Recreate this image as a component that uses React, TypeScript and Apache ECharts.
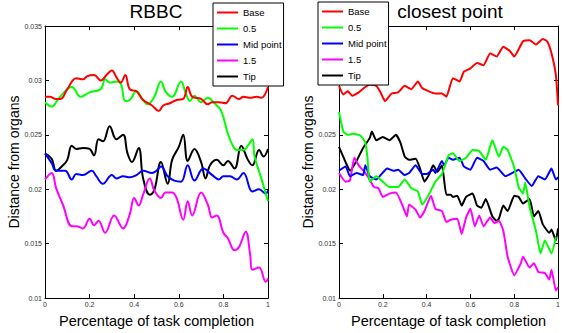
import React, { useEffect, useRef } from "react";
import * as echarts from "echarts";

const seriesNames = ["Base", "0.5", "Mid point", "1.5", "Tip"];
const seriesColors = ["#ff0000", "#00ff00", "#0000ff", "#ff00ff", "#000000"];
const titles = ["RBBC", "closest point"];
const yTicks = [0.01, 0.015, 0.02, 0.025, 0.03, 0.035];
const xTicks = [0, 0.2, 0.4, 0.6, 0.8, 1];

// RBBC (left)
const rbbcBase = [[0,0.0285],[0.02,0.0285],[0.05,0.0283],[0.07,0.0283],[0.1,0.0292],[0.14,0.0302],[0.17,0.0301],[0.19,0.0304],[0.22,0.0305],[0.25,0.03],[0.28,0.0306],[0.3,0.0309],[0.32,0.0303],[0.34,0.0298],[0.36,0.0305],[0.38,0.0292],[0.41,0.029],[0.44,0.0282],[0.48,0.0277],[0.51,0.0272],[0.53,0.0277],[0.56,0.0279],[0.59,0.0282],[0.62,0.0283],[0.64,0.0294],[0.66,0.0285],[0.7,0.0283],[0.73,0.0278],[0.75,0.028],[0.78,0.028],[0.81,0.0279],[0.84,0.0286],[0.87,0.0283],[0.89,0.0285],[0.92,0.0284],[0.95,0.0285],[0.97,0.0284],[1,0.0294]];
const rbbcHalf = [[0,0.028],[0.03,0.0276],[0.06,0.0283],[0.1,0.0292],[0.12,0.0294],[0.16,0.0285],[0.2,0.0289],[0.25,0.0292],[0.27,0.0301],[0.29,0.0298],[0.32,0.0299],[0.34,0.0297],[0.36,0.0281],[0.38,0.0282],[0.41,0.029],[0.44,0.0282],[0.46,0.0278],[0.49,0.0285],[0.52,0.0299],[0.54,0.029],[0.57,0.0285],[0.61,0.0299],[0.63,0.0289],[0.65,0.0281],[0.67,0.0286],[0.7,0.028],[0.73,0.0284],[0.76,0.0279],[0.79,0.0272],[0.82,0.0251],[0.84,0.0241],[0.86,0.0236],[0.89,0.0236],[0.91,0.024],[0.93,0.0246],[0.94,0.023],[0.97,0.021],[1,0.0189]];
const rbbcMid = [[0,0.0233],[0.03,0.0224],[0.05,0.0217],[0.09,0.0217],[0.12,0.0209],[0.14,0.0214],[0.17,0.0213],[0.21,0.0217],[0.23,0.0212],[0.26,0.0205],[0.3,0.0213],[0.32,0.021],[0.35,0.0212],[0.38,0.0211],[0.41,0.0213],[0.44,0.0217],[0.48,0.0215],[0.5,0.0217],[0.52,0.0221],[0.55,0.0212],[0.58,0.0208],[0.61,0.0207],[0.64,0.0222],[0.67,0.0208],[0.71,0.0219],[0.75,0.0213],[0.78,0.0209],[0.8,0.0212],[0.83,0.0212],[0.86,0.0209],[0.89,0.0215],[0.93,0.0198],[0.96,0.02],[0.99,0.0196],[1,0.0199]];
const rbbcOneHalf = [[0,0.0209],[0.03,0.0215],[0.05,0.0201],[0.08,0.0186],[0.12,0.0166],[0.14,0.0166],[0.17,0.0164],[0.2,0.0173],[0.22,0.0167],[0.24,0.0171],[0.27,0.016],[0.31,0.0176],[0.35,0.0164],[0.38,0.0177],[0.4,0.0192],[0.42,0.0185],[0.44,0.0195],[0.47,0.021],[0.49,0.0199],[0.52,0.0192],[0.54,0.0197],[0.57,0.0197],[0.59,0.0192],[0.62,0.0172],[0.64,0.0189],[0.66,0.0176],[0.7,0.0197],[0.73,0.0186],[0.75,0.0174],[0.77,0.0176],[0.8,0.016],[0.82,0.0155],[0.85,0.0144],[0.87,0.0147],[0.9,0.0161],[0.92,0.014],[0.93,0.0126],[0.96,0.0128],[0.99,0.0115],[1,0.0118]];
const rbbcTip = [[0,0.0233],[0.03,0.0228],[0.05,0.0217],[0.08,0.0222],[0.1,0.0227],[0.12,0.024],[0.14,0.0237],[0.17,0.0238],[0.2,0.0237],[0.22,0.0231],[0.24,0.0246],[0.26,0.0244],[0.29,0.0258],[0.32,0.0246],[0.35,0.025],[0.37,0.0233],[0.39,0.0225],[0.42,0.0238],[0.44,0.021],[0.47,0.0195],[0.49,0.0199],[0.52,0.0225],[0.55,0.0205],[0.57,0.0227],[0.6,0.0239],[0.62,0.025],[0.64,0.0226],[0.67,0.0237],[0.7,0.0225],[0.72,0.021],[0.74,0.0222],[0.77,0.0227],[0.8,0.0222],[0.82,0.0226],[0.85,0.0219],[0.88,0.024],[0.91,0.0227],[0.93,0.0222],[0.96,0.0236],[0.98,0.023],[1,0.0237]];

// closest point (right)
const cpBase = [[0,0.0295],[0.02,0.0287],[0.04,0.029],[0.06,0.0286],[0.09,0.0289],[0.12,0.0294],[0.14,0.0296],[0.17,0.0295],[0.19,0.0289],[0.21,0.0281],[0.24,0.0288],[0.27,0.0289],[0.3,0.0295],[0.33,0.0292],[0.36,0.0299],[0.38,0.0293],[0.41,0.029],[0.44,0.0288],[0.47,0.0288],[0.49,0.0285],[0.52,0.0302],[0.55,0.0299],[0.57,0.0308],[0.6,0.0311],[0.63,0.0316],[0.66,0.0314],[0.69,0.0325],[0.72,0.0322],[0.75,0.0331],[0.78,0.0327],[0.8,0.0322],[0.84,0.0336],[0.87,0.0337],[0.9,0.0333],[0.93,0.0338],[0.95,0.0336],[0.97,0.0325],[0.99,0.0305],[1,0.0277]];
const cpHalf = [[0,0.0271],[0.02,0.0253],[0.04,0.025],[0.07,0.0251],[0.1,0.0249],[0.12,0.0243],[0.13,0.0229],[0.14,0.0207],[0.17,0.0212],[0.2,0.0207],[0.23,0.0202],[0.27,0.0202],[0.3,0.0209],[0.33,0.0201],[0.36,0.0198],[0.38,0.0186],[0.41,0.0195],[0.44,0.0207],[0.47,0.0214],[0.5,0.0231],[0.52,0.0233],[0.55,0.0226],[0.58,0.0229],[0.61,0.0236],[0.64,0.0235],[0.67,0.0227],[0.7,0.0245],[0.73,0.023],[0.75,0.0239],[0.77,0.0236],[0.8,0.022],[0.82,0.0202],[0.84,0.0196],[0.85,0.0206],[0.87,0.0184],[0.9,0.0161],[0.92,0.0141],[0.94,0.0153],[0.97,0.0141],[0.99,0.0156]];
const cpMid = [[0,0.0217],[0.03,0.0221],[0.05,0.0212],[0.08,0.0215],[0.11,0.0213],[0.12,0.0222],[0.14,0.0212],[0.17,0.0209],[0.19,0.0213],[0.22,0.0219],[0.25,0.0217],[0.27,0.0218],[0.3,0.0213],[0.32,0.0215],[0.35,0.0222],[0.38,0.0214],[0.4,0.0214],[0.43,0.0218],[0.44,0.0215],[0.47,0.0226],[0.48,0.0222],[0.5,0.0229],[0.52,0.0227],[0.55,0.0229],[0.57,0.0221],[0.6,0.0218],[0.63,0.0229],[0.66,0.0226],[0.69,0.0218],[0.72,0.022],[0.74,0.0216],[0.76,0.0212],[0.8,0.0216],[0.82,0.0218],[0.85,0.021],[0.88,0.0203],[0.91,0.0212],[0.94,0.0209],[0.97,0.0219],[0.99,0.0209],[1,0.0211]];
const cpOneHalf = [[0,0.0215],[0.03,0.0207],[0.05,0.0208],[0.07,0.0229],[0.09,0.0222],[0.12,0.0215],[0.14,0.0209],[0.16,0.0202],[0.18,0.0201],[0.2,0.0193],[0.23,0.0196],[0.26,0.0197],[0.29,0.0185],[0.31,0.0175],[0.32,0.0186],[0.35,0.0181],[0.37,0.0174],[0.39,0.018],[0.42,0.0194],[0.44,0.0182],[0.47,0.018],[0.49,0.017],[0.51,0.0172],[0.54,0.0173],[0.56,0.0159],[0.58,0.0174],[0.6,0.0182],[0.62,0.0166],[0.64,0.0176],[0.66,0.0166],[0.69,0.0174],[0.71,0.0169],[0.73,0.0171],[0.75,0.0162],[0.77,0.0138],[0.8,0.0121],[0.83,0.0132],[0.84,0.0138],[0.87,0.0128],[0.89,0.0132],[0.91,0.0124],[0.94,0.0123],[0.96,0.0117],[0.97,0.0126],[0.99,0.0107],[1,0.011]];
const cpTip = [[0,0.0239],[0.03,0.0225],[0.05,0.0217],[0.08,0.0226],[0.11,0.0238],[0.14,0.0247],[0.15,0.0253],[0.17,0.0245],[0.2,0.0248],[0.23,0.0245],[0.26,0.025],[0.28,0.0243],[0.3,0.023],[0.32,0.0227],[0.35,0.0228],[0.37,0.0219],[0.39,0.0207],[0.41,0.0213],[0.43,0.0222],[0.45,0.0216],[0.47,0.0222],[0.49,0.0195],[0.51,0.0195],[0.52,0.0193],[0.54,0.0194],[0.56,0.0185],[0.58,0.0193],[0.61,0.0196],[0.63,0.0185],[0.65,0.0183],[0.67,0.0191],[0.7,0.0175],[0.72,0.0171],[0.73,0.0173],[0.75,0.0185],[0.77,0.018],[0.8,0.0194],[0.82,0.0193],[0.84,0.0187],[0.87,0.0191],[0.89,0.0175],[0.91,0.018],[0.93,0.0168],[0.96,0.016],[0.97,0.0163],[0.99,0.0153],[1,0.0164]];

const rbbcSets = [rbbcBase, rbbcHalf, rbbcMid, rbbcOneHalf, rbbcTip];
const cpSets = [cpBase, cpHalf, cpMid, cpOneHalf, cpTip];

const FONT = "'Liberation Sans', Arial, Helvetica, sans-serif";

function fmt(v: number) {
  return String(parseFloat(v.toFixed(3)));
}

export default function App() {
  const ref = useRef<HTMLDivElement>(null);
  useEffect(() => {
    document.body.style.margin = "0";
    const chart = echarts.init(ref.current!, null, { renderer: "svg" });
    const gridLefts = [45, 339];
    const grids = gridLefts.map((l) => ({ left: l, top: 26, width: 223, height: 275, show: false }));
    const xAxes: any[] = [];
    const yAxes: any[] = [];
    [0, 1].forEach((g) => {
      xAxes.push({
        type: "value", gridIndex: g, min: xTicks[0], max: xTicks[xTicks.length - 1], interval: 0.2, position: "bottom",
        name: "Percentage of task completion", nameLocation: "middle", nameGap: 10,
        nameTextStyle: { fontSize: 14.5, color: "#000", fontFamily: FONT },
        axisLine: { show: true, onZero: false, lineStyle: { color: "#000", width: 1 } },
        axisTick: { show: true, inside: true, length: 4, lineStyle: { color: "#000" } },
        axisLabel: { fontSize: 7, color: "#333", margin: 3, fontFamily: FONT, formatter: (v: number) => fmt(v) },
        splitLine: { show: false },
      });
      xAxes.push({
        type: "value", gridIndex: g, min: 0, max: 1, interval: 0.2, position: "top",
        axisLine: { show: true, onZero: false, lineStyle: { color: "#000", width: 1 } },
        axisTick: { show: true, inside: true, length: 4, lineStyle: { color: "#000" } },
        axisLabel: { show: false }, splitLine: { show: false },
      });
      yAxes.push({
        type: "value", gridIndex: g, min: yTicks[0], max: yTicks[yTicks.length - 1], interval: 0.005, position: "left",
        name: "Distance from organs", nameLocation: "middle", nameGap: 23,
        nameTextStyle: { fontSize: 14, color: "#000", fontFamily: FONT },
        axisLine: { show: true, onZero: false, lineStyle: { color: "#000", width: 1 } },
        axisTick: { show: true, inside: true, length: 4, lineStyle: { color: "#000" } },
        axisLabel: { fontSize: 7, color: "#333", margin: 3, fontFamily: FONT, formatter: (v: number) => fmt(v) },
        splitLine: { show: false },
      });
      yAxes.push({
        type: "value", gridIndex: g, min: 0.01, max: 0.035, interval: 0.005, position: "right",
        axisLine: { show: true, onZero: false, lineStyle: { color: "#000", width: 1 } },
        axisTick: { show: true, inside: true, length: 4, lineStyle: { color: "#000" } },
        axisLabel: { show: false }, splitLine: { show: false },
      });
    });
    const series: any[] = [];
    [rbbcSets, cpSets].forEach((sets, g) => {
      sets.forEach((data, i) => {
        series.push({
          type: "line", name: seriesNames[i], data, xAxisIndex: g * 2, yAxisIndex: g * 2,
          showSymbol: false, symbol: "none", smooth: g === 0 ? 0.4 : 0.15,
          lineStyle: { color: seriesColors[i], width: 2 }, itemStyle: { color: seriesColors[i] },
          z: 10 - i,
        });
      });
    });
    const legendCommon = {
      orient: "vertical", top: 3, data: seriesNames.map((n) => ({ name: n, icon: "rect" })),
      backgroundColor: "#fff", borderColor: "#000", borderWidth: 1, borderRadius: 0,
      padding: [4, 2, 4, 4], itemWidth: 21, itemHeight: 2, itemGap: 5,
      textStyle: { fontSize: 9.5, lineHeight: 11, color: "#000", fontFamily: FONT },
      selectedMode: false, z: 20,
    };
    chart.setOption({
      animation: false,
      backgroundColor: "#fff",
      title: [
        { text: titles[0], left: 156, top: 2, textAlign: "center", padding: 0, textStyle: { fontSize: 19, fontWeight: "normal", color: "#000", fontFamily: FONT } },
        { text: titles[1], left: 450, top: 2, textAlign: "center", padding: 0, textStyle: { fontSize: 19, fontWeight: "normal", color: "#000", fontFamily: FONT } },
      ],
      legend: [
        { ...legendCommon, left: 213 },
        { ...legendCommon, left: 318, top: 2 },
      ],
      grid: grids,
      xAxis: xAxes,
      yAxis: yAxes,
      series,
    });
    return () => chart.dispose();
  }, []);
  return <div ref={ref} style={{ width: 563, height: 333, position: "absolute", left: 0, top: 0 }} />;
}
